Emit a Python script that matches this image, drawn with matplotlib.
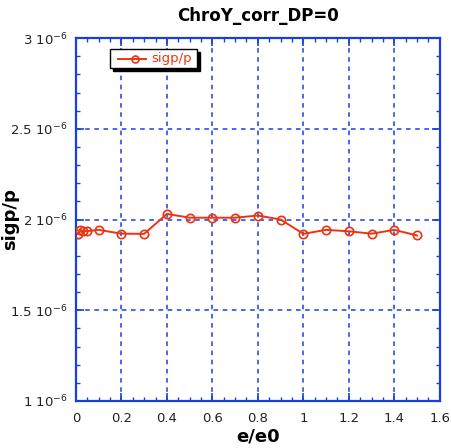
import matplotlib
matplotlib.use('Agg')
from matplotlib import pyplot as plt
from matplotlib.ticker import MultipleLocator, FixedLocator
from matplotlib.patches import Rectangle
from matplotlib.lines import Line2D

# data
e_ratio = [0.01, 0.02, 0.03, 0.05, 0.1, 0.2, 0.3, 0.4, 0.5, 0.6, 0.7,
           0.8, 0.9, 1.0, 1.1, 1.2, 1.3, 1.4, 1.5]
sigp = [1.920, 1.943, 1.936, 1.936, 1.943, 1.922, 1.921, 2.031, 2.010,
        2.010, 2.010, 2.022, 2.000, 1.921, 1.943, 1.935, 1.922, 1.943, 1.912]
sigp = [v * 1e-6 for v in sigp]

y_ticks = [1e-6, 1.5e-6, 2e-6, 2.5e-6, 3e-6]
y_labels = ['1 10$^{-6}$', '1.5 10$^{-6}$', '2 10$^{-6}$', '2.5 10$^{-6}$', '3 10$^{-6}$']
x_ticks = [0, 0.2, 0.4, 0.6, 0.8, 1.0, 1.2, 1.4, 1.6]
x_labels = ['0', '0.2', '0.4', '0.6', '0.8', '1', '1.2', '1.4', '1.6']

blue = '#1a3fe0'
red = '#ee3311'

fig = plt.figure(figsize=(4.52, 4.48), dpi=100)
ax = fig.add_axes([0.168, 0.105, 0.805, 0.81])

ax.plot(e_ratio, sigp, color=red, lw=1.4, marker='o', ms=6,
        mfc='none', mec=red, mew=1.2, zorder=3)

ax.set_xlim(0, 1.6)
ax.set_ylim(1e-6, 3e-6)
ax.xaxis.set_major_locator(FixedLocator(x_ticks))
ax.set_xticklabels(x_labels)
ax.xaxis.set_minor_locator(MultipleLocator(0.05))
ax.yaxis.set_major_locator(FixedLocator(y_ticks))
ax.set_yticklabels(y_labels)
ax.yaxis.set_minor_locator(MultipleLocator(0.1e-6))

ax.grid(True, which='major', color=blue, ls=(0, (3, 3)), lw=1.1)
for s in ax.spines.values():
    s.set_color(blue)
    s.set_linewidth(1.6)
ax.tick_params(which='both', direction='in', top=True, right=True, color=blue)
ax.tick_params(which='major', length=6, width=1.2, labelsize=9.5, labelcolor='#222222')
ax.tick_params(axis='x', which='major', pad=8)
ax.tick_params(axis='y', which='major', pad=6)
ax.tick_params(which='minor', length=3, width=1.0)

ax.set_title('ChroY_corr_DP=0', fontsize=12, fontweight='bold', pad=12)
ax.set_xlabel('e/e0', fontsize=13, fontweight='bold', labelpad=2)
ax.set_ylabel('sigp/p', fontsize=13, fontweight='bold')
ax.yaxis.set_label_coords(-0.155, 0.5)

# legend box with black drop shadow
lx, ly, lw_, lh = 0.093, 0.917, 0.24, 0.053
ax.add_patch(Rectangle((lx + 0.009, ly - 0.009), lw_, lh, transform=ax.transAxes,
                       facecolor='black', edgecolor='black', zorder=4))
ax.add_patch(Rectangle((lx, ly), lw_, lh, transform=ax.transAxes,
                       facecolor='white', edgecolor='black', lw=1.0, zorder=5))
ax.add_line(Line2D([lx + 0.022, lx + 0.1], [ly + lh / 2] * 2, transform=ax.transAxes,
                   color=red, lw=1.4, zorder=6))
ax.add_line(Line2D([lx + 0.068], [ly + lh / 2], transform=ax.transAxes, marker='o',
                   ms=5, mfc='none', mec=red, mew=1.2, zorder=6))
ax.text(lx + 0.115, ly + lh / 2, 'sigp/p', transform=ax.transAxes, color=red,
        fontsize=9.5, va='center', ha='left', zorder=6)

plt.savefig('out.png', dpi=100)
